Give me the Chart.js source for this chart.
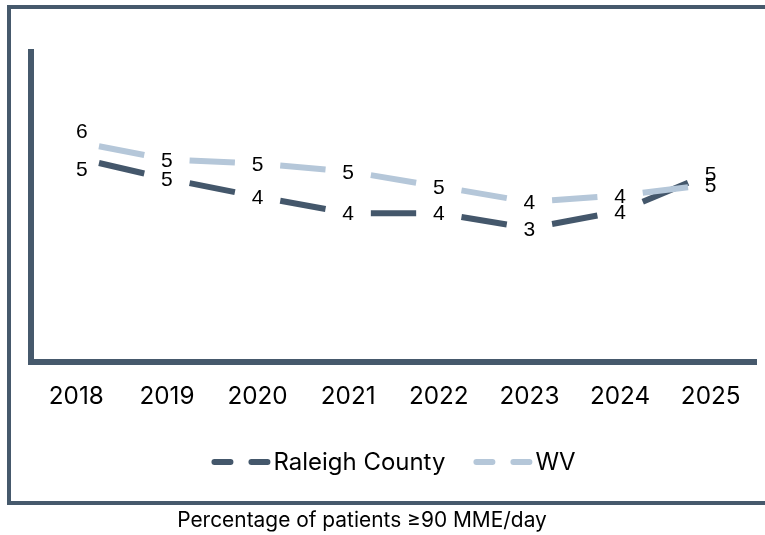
<!DOCTYPE html>
<html>
<head>
<meta charset="utf-8">
<script src="https://cdn.jsdelivr.net/npm/chart.js@4.4.1/dist/chart.umd.min.js"></script>
<style>
html,body{margin:0;padding:0;background:#ffffff;}
#wrap{width:765px;height:535px;position:relative;overflow:hidden;}
canvas{display:block;}
</style>
</head>
<body>
<div id="wrap"><canvas id="chart" width="765" height="535"></canvas></div>
<script>
// ---- data ----
const categories = ['2018', '2019', '2020', '2021', '2022', '2023', '2024', '2025'];
const raleighValues = [5.27, 4.73, 4.27, 3.84, 3.84, 3.45, 3.89, 4.87];
const wvValues = [5.68, 5.23, 5.12, 4.92, 4.53, 4.13, 4.30, 4.58];
const seriesNames = ['Raleigh County', 'WV'];
const chartTitle = 'Percentage of patients \u226590 MME/day';
const yMin = 0;
const yMax = 8;

// ---- styles ----
const DARK = '#44576b';
const LIGHT = '#b5c7d9';
const AXIS = '#46596c';
const TEXT = '#000000';
const SANS = 'Inter, "Open Sans", sans-serif';
const LABEL_FONT = '"Liberation Sans", Arial, sans-serif';

function fitSize(text, family, targetWidth) {
  const c = document.createElement('canvas').getContext('2d');
  c.font = '100px ' + family;
  return 100 * targetWidth / c.measureText(text).width;
}
const tickSize = fitSize('2018', SANS, 55);

function segLen(ctx) {
  return Math.hypot(ctx.p1.x - ctx.p0.x, ctx.p1.y - ctx.p0.y);
}
const segmentStyle = {
  borderDash: ctx => { const L = segLen(ctx); return [L / 2, L / 2]; },
  borderDashOffset: ctx => 0.75 * segLen(ctx)
};

const decor = {
  id: 'decor',
  beforeDraw(chart) {
    const c = chart.ctx;
    c.save();
    c.fillStyle = '#ffffff';
    c.fillRect(0, 0, chart.width, chart.height);
    c.strokeStyle = AXIS;
    c.lineWidth = 4;
    c.strokeRect(9, 7, chart.width + 20, 496);
    c.restore();
  },
  afterDatasetsDraw(chart) {
    const c = chart.ctx;
    c.save();
    c.font = '21px ' + LABEL_FONT;
    c.fillStyle = TEXT;
    c.textAlign = 'center';
    c.textBaseline = 'middle';
    chart.data.datasets.forEach((ds, di) => {
      const meta = chart.getDatasetMeta(di);
      meta.data.forEach((pt, i) => {
        let dx = 0, dy = 1.5;
        if (i === 0) { dx = 5.5; dy = ds.label === 'WV' ? -10 : 12; }
        c.fillText(String(Math.round(ds.data[i])), pt.x + dx, pt.y + dy);
      });
    });
    c.restore();
  },
  afterDraw(chart) {
    const c = chart.ctx;
    const area = chart.chartArea;
    c.save();
    // legend
    const legSize = fitSize('Raleigh County', SANS, 172);
    c.font = legSize + 'px ' + SANS;
    const sampleW = 59, gapText = 3, itemGap = 28;
    const items = chart.data.datasets.slice().sort((a, b) => a.legendIndex - b.legendIndex);
    let total = 0;
    items.forEach((ds, k) => {
      total += sampleW + gapText + c.measureText(ds.label).width + (k < items.length - 1 ? itemGap : 0);
    });
    let x = (area.left + area.right) / 2 - total / 2;
    const ly = 462;
    items.forEach(ds => {
      c.strokeStyle = ds.borderColor;
      c.lineWidth = 6;
      c.lineCap = 'round';
      c.beginPath();
      c.moveTo(x + 3, ly); c.lineTo(x + 19, ly);
      c.moveTo(x + 40, ly); c.lineTo(x + 56, ly);
      c.stroke();
      x += sampleW + gapText;
      c.fillStyle = TEXT;
      c.textAlign = 'left';
      c.textBaseline = 'middle';
      c.fillText(ds.label, x, ly + 1);
      x += c.measureText(ds.label).width + itemGap;
    });
    // title below the frame
    const tSize = fitSize(chartTitle, SANS, 370);
    c.font = tSize + 'px ' + SANS;
    c.textAlign = 'center';
    c.textBaseline = 'middle';
    c.fillText(chartTitle, 362, 521);
    c.restore();
  }
};

new Chart(document.getElementById('chart'), {
  type: 'line',
  data: {
    labels: categories,
    datasets: [
      {
        label: seriesNames[0], data: raleighValues, legendIndex: 0, order: 1,
        borderColor: DARK, backgroundColor: DARK, borderWidth: 6,
        pointRadius: 0, pointHoverRadius: 0, tension: 0, fill: false,
        segment: segmentStyle
      },
      {
        label: seriesNames[1], data: wvValues, legendIndex: 1, order: 0,
        borderColor: LIGHT, backgroundColor: LIGHT, borderWidth: 6,
        pointRadius: 0, pointHoverRadius: 0, tension: 0, fill: false,
        segment: segmentStyle
      }
    ]
  },
  options: {
    responsive: false,
    animation: false,
    devicePixelRatio: 1,
    layout: { padding: { left: 0, top: 52, right: 9, bottom: 113 } },
    plugins: { legend: { display: false }, title: { display: false }, tooltip: { enabled: false } },
    scales: {
      x: {
        type: 'category',
        offset: true,
        grid: { display: false, drawTicks: false },
        border: { display: true, color: AXIS, width: 6 },
        ticks: { color: TEXT, font: { family: SANS, size: tickSize }, padding: 20, maxRotation: 0 },
        afterFit: s => { s.height = 60; }
      },
      y: {
        min: yMin, max: yMax,
        grid: { display: false, drawTicks: false },
        border: { display: true, color: AXIS, width: 6 },
        ticks: { display: false },
        afterFit: s => { s.width = 31; }
      }
    }
  },
  plugins: [decor]
});
</script>
</body>
</html>
